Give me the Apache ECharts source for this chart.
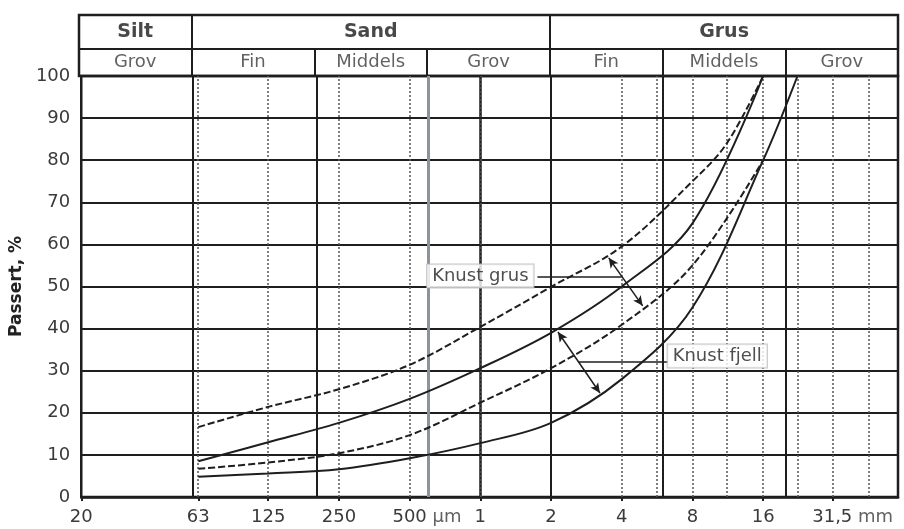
<!DOCTYPE html>
<html>
<head>
<meta charset="utf-8">
<script src="https://cdn.jsdelivr.net/npm/echarts@6/dist/echarts.min.js"></script>
<style>html,body{margin:0;background:#fff}#chart{width:904px;height:529px}</style>
</head>
<body>
<div id="chart"></div>
<script>
// kornstørrelse i mm, passert i %
var grusUpperSizes = [0.063, 0.125, 0.25, 0.5, 1, 2, 4, 8, 11.2, 16];
var grusUpper = [16.6, 21.4, 25.6, 31.4, 40.4, 49.9, 59.5, 75, 84, 100];
var grusLowerSizes = [0.063, 0.125, 0.25, 0.5, 1, 2, 4, 8, 16];
var grusLower = [6.7, 8.2, 10.4, 14.7, 22.4, 30.6, 40.9, 55, 80];
var fjellUpperSizes = [0.063, 0.125, 0.25, 0.5, 1, 2, 4, 8, 16];
var fjellUpper = [8.5, 13, 17.6, 23.3, 30.6, 39, 50, 65, 100];
var fjellLowerSizes = [0.063, 0.125, 0.25, 0.5, 1, 2, 4, 8, 16, 22.4];
var fjellLower = [4.8, 5.6, 6.6, 9.2, 12.8, 17.6, 28, 45, 80, 100];

var tickSizes = [0.02, 0.063, 0.125, 0.25, 0.5, 1, 2, 4, 8, 16, 31.5];
var tickNums = ['20', '63', '125', '250', '500', '1', '2', '4', '8', '16', '31,5'];
var tickUnits = ['', '', '', '', ' µm', '', '', '', '', '', ' mm'];
var boundSizes = [0.06, 0.2, 2, 6, 20];
var greyBound = 0.6;
var sieveSizes = [0.063, 0.125, 0.25, 0.5, 1, 4, 5.6, 8, 11.2, 16, 22.4, 31.5, 45];
var mainGroups = ['Silt', 'Sand', 'Grus'];
var mainEdges = [0.02, 0.06, 2, 60];
var subGroups = ['Grov', 'Fin', 'Middels', 'Grov', 'Fin', 'Middels', 'Grov'];
var subEdges = [0.02, 0.06, 0.2, 0.6, 2, 6, 20, 60];

// piler og merkelapper (mm, %)
var arrowGrus = [[3.52, 56.8], [4.91, 45.4]];
var arrowFjell = [[2.14, 39.2], [3.23, 24.7]];
var labelGrus = {text: 'Knust grus', at: [1.0, 52.5], leader: [[1.75, 52.4], [4.0, 52.4]]};
var labelFjell = {text: 'Knust fjell', at: [10.2, 33.5], leader: [[2.63, 32.1], [6.3, 32.1]]};

var lg = function(v) { return Math.log2(v); };
var xMin = lg(0.02), xMax = lg(60);
var FONT = 'DejaVu Sans';
var INK = '#1e1e1e';
var TXT = '#3a3a3a';

function pts(sizes, vals) {
	return sizes.map(function(s, i) { return [lg(s), vals[i]]; });
}

var chart = echarts.init(document.getElementById('chart'));

var vLines = [];
boundSizes.forEach(function(s) {
	vLines.push({xAxis: lg(s), lineStyle: {color: INK, width: 2, type: 'solid'}});
});
vLines.push({xAxis: lg(greyBound), lineStyle: {color: '#8c939b', width: 3, type: 'solid'}});
sieveSizes.forEach(function(s) {
	vLines.push({xAxis: lg(s), lineStyle: {color: '#555', width: 1.5, type: [2, 2]}});
});

var headLines = [{yAxis: 27}];
mainEdges.slice(1, -1).forEach(function(s) {
	headLines.push([{coord: [lg(s), 0]}, {coord: [lg(s), 61]}]);
});
subEdges.slice(1, -1).forEach(function(s) {
	headLines.push([{coord: [lg(s), 0]}, {coord: [lg(s), 27]}]);
});

var headText = [];
mainGroups.forEach(function(g, i) {
	headText.push({value: [(lg(mainEdges[i]) + lg(mainEdges[i + 1])) / 2, 44], name: g, bold: true});
});
subGroups.forEach(function(g, i) {
	headText.push({value: [(lg(subEdges[i]) + lg(subEdges[i + 1])) / 2, 13.5], name: g});
});

// enhetene står ved siden av tallet, tallet er sentrert på streken
var unitText = [];
tickSizes.forEach(function(s, i) {
	if (tickUnits[i]) unitText.push({value: [lg(s), 0], name: tickNums[i], unit: tickUnits[i]});
});

function curve(name, sizes, vals, dashed) {
	return {
		name: name, type: 'line', xAxisIndex: 0, yAxisIndex: 0,
		data: pts(sizes, vals), showSymbol: false, symbol: 'none',
		smooth: 0.35, z: 5,
		lineStyle: {color: INK, width: 2, type: dashed ? [7, 3] : 'solid'}
	};
}

function arrowLine(a) {
	return [{coord: [lg(a[0][0]), a[0][1]]}, {coord: [lg(a[1][0]), a[1][1]]}];
}

var boxLabel = {
	show: true, position: 'inside', formatter: '{b}',
	fontFamily: FONT, fontSize: 18, color: '#222',
	backgroundColor: '#fff', borderColor: '#b5b5b5', borderWidth: 1, padding: [3, 5, 2, 5]
};

var option = {
	animation: false,
	backgroundColor: '#fff',
	grid: [
		{left: 79, right: 6, top: 76, bottom: 32, show: true, borderColor: INK, borderWidth: 2.5},
		{left: 79, right: 6, top: 15, height: 61, show: true, borderColor: INK, borderWidth: 2.5}
	],
	xAxis: [
		{
			type: 'value', gridIndex: 0, min: xMin, max: xMax,
			splitLine: {show: false},
			axisLine: {lineStyle: {color: INK, width: 2.5}},
			axisTick: {show: true, length: 4, lineStyle: {color: INK, width: 2},
				customValues: tickSizes.map(lg)},
			axisLabel: {
				customValues: tickSizes.map(lg), margin: 11,
				showMinLabel: true, showMaxLabel: true, hideOverlap: false,
				fontFamily: FONT, fontSize: 18, color: TXT,
				formatter: function(v) {
					var i = tickSizes.findIndex(function(s) { return Math.abs(lg(s) - v) < 1e-6; });
					return i < 0 ? '' : tickNums[i];
				}
			}
		},
		{type: 'value', gridIndex: 1, min: xMin, max: xMax, show: false, splitLine: {show: false}}
	],
	yAxis: [
		{
			type: 'value', gridIndex: 0, min: 0, max: 100, interval: 10,
			name: 'Passert, %', nameLocation: 'middle', nameGap: 39,
			nameTextStyle: {fontFamily: FONT, fontSize: 17, fontWeight: 'bold', color: '#222'},
			axisLine: {show: true, lineStyle: {color: INK, width: 2.5}},
			axisTick: {show: true, length: 8, lineStyle: {color: INK, width: 2}},
			axisLabel: {margin: 11, fontFamily: FONT, fontSize: 18, color: TXT},
			splitLine: {lineStyle: {color: INK, width: 2}}
		},
		{type: 'value', gridIndex: 1, min: 0, max: 61, show: false, splitLine: {show: false}}
	],
	series: [
		{
			name: 'rutenett', type: 'line', xAxisIndex: 0, yAxisIndex: 0,
			data: [], silent: true, z: 1,
			markLine: {silent: true, symbol: 'none', label: {show: false}, animation: false, data: vLines}
		},
		{
			name: 'hode', type: 'scatter', xAxisIndex: 1, yAxisIndex: 1,
			data: headText, symbolSize: 0, silent: true,
			label: {
				show: true, position: 'inside',
				formatter: function(p) { return p.data.bold ? '{b|' + p.name + '}' : p.name; },
				fontFamily: FONT, fontSize: 18, color: TXT,
				rich: {b: {fontFamily: FONT, fontSize: 19, fontWeight: 'bold', color: '#1a1a1a'}}
			},
			markLine: {silent: true, symbol: 'none', label: {show: false}, animation: false,
				lineStyle: {color: INK, width: 2, type: 'solid'}, data: headLines}
		},
		{
			name: 'enheter', type: 'scatter', xAxisIndex: 0, yAxisIndex: 0,
			data: unitText, symbolSize: 0, silent: true,
			label: {
				show: true, position: 'inside', align: 'center', verticalAlign: 'top',
				formatter: function(p) { return '{h|' + p.data.unit + p.name + '}{u|' + p.data.unit + '}'; },
				offset: [0, 11],
				rich: {
					h: {color: 'rgba(0,0,0,0)', fontFamily: FONT, fontSize: 18},
					u: {color: TXT, fontFamily: FONT, fontSize: 18}
				}
			}
		},
		curve('Knust grus, øvre', grusUpperSizes, grusUpper, true),
		curve('Knust grus, nedre', grusLowerSizes, grusLower, true),
		curve('Knust fjell, øvre', fjellUpperSizes, fjellUpper, false),
		curve('Knust fjell, nedre', fjellLowerSizes, fjellLower, false),
		{
			name: 'piler', type: 'line', xAxisIndex: 0, yAxisIndex: 0, data: [], z: 6,
			markLine: {
				silent: true, symbol: ['arrow', 'arrow'], symbolSize: [7, 10],
				label: {show: false}, animation: false,
				lineStyle: {color: INK, width: 1.5, type: 'solid'},
				data: [arrowLine(arrowGrus), arrowLine(arrowFjell)]
			}
		},
		{
			name: 'ledere', type: 'line', xAxisIndex: 0, yAxisIndex: 0, data: [], z: 4,
			markLine: {
				silent: true, symbol: 'none', label: {show: false}, animation: false,
				lineStyle: {color: INK, width: 1.5, type: 'solid'},
				data: [arrowLine(labelGrus.leader), arrowLine(labelFjell.leader)]
			}
		},
		{
			name: 'merkelapper', type: 'scatter', xAxisIndex: 0, yAxisIndex: 0, z: 8,
			symbolSize: 0, silent: true, label: boxLabel,
			data: [
				{name: labelGrus.text, value: [lg(labelGrus.at[0]), labelGrus.at[1]]},
				{name: labelFjell.text, value: [lg(labelFjell.at[0]), labelFjell.at[1]]}
			]
		}
	]
};
chart.setOption(option);
</script>
</body>
</html>
